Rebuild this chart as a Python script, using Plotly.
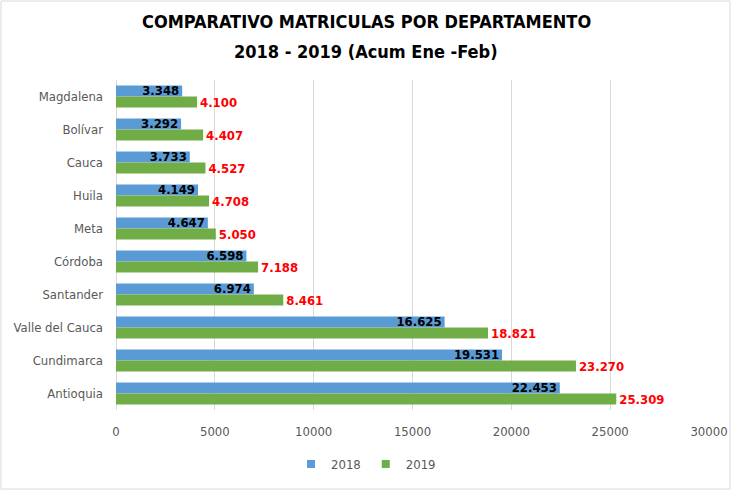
import plotly.graph_objects as go

departamentos = ["Magdalena", "Bolívar", "Cauca", "Huila", "Meta", "Córdoba",
                 "Santander", "Valle del Cauca", "Cundimarca", "Antioquia"]
v2018 = [3348, 3292, 3733, 4149, 4647, 6598, 6974, 16625, 19531, 22453]
v2019 = [4100, 4407, 4527, 4708, 5050, 7188, 8461, 18821, 23270, 25309]
x_ticks = [0, 5000, 10000, 15000, 20000, 25000, 30000]
title_lines = ["COMPARATIVO MATRICULAS POR DEPARTAMENTO", "2018 - 2019 (Acum Ene -Feb)"]
series_names = ["2018", "2019"]
series_colors = ["#5B9BD5", "#70AD47"]

def fmt(v):
    return f"{v:,}".replace(",", ".")

FONT = "DejaVu Sans Condensed, Liberation Sans Narrow, sans-serif"

fig = go.Figure()
fig.add_trace(go.Bar(
    y=departamentos, x=v2018, orientation="h", name=series_names[0], showlegend=False,
    marker=dict(color=series_colors[0], line=dict(width=0)),
    text=[fmt(v) for v in v2018], textposition="inside", insidetextanchor="end",
    constraintext="none",
    textfont=dict(color="#000000", size=13, family=FONT, weight="bold"),
))
fig.add_trace(go.Bar(
    y=departamentos, x=v2019, orientation="h", name=series_names[1], showlegend=False,
    marker=dict(color=series_colors[1], line=dict(width=0)),
    text=[fmt(v) for v in v2019], textposition="outside",
    constraintext="none", cliponaxis=False,
    textfont=dict(color="#FF0000", size=13, family=FONT, weight="bold"),
))
# legend entries with small square markers
for name, color in zip(series_names, series_colors):
    fig.add_trace(go.Scatter(
        x=[None], y=[None], mode="markers", name=name,
        marker=dict(symbol="square", size=8, color=color),
        showlegend=True, hoverinfo="skip",
    ))

L, R, T, B = 116, 23, 80, 81
W, H = 732, 491
pw, ph = W - L - R, H - T - B
cx = (W / 2 - L) / pw

annotations = [
    dict(text=title_lines[0], xref="paper", yref="paper", x=cx, y=1 + (T - 22) / ph,
         xanchor="center", yanchor="middle", showarrow=False,
         font=dict(family=FONT, size=18, color="#000000", weight="bold")),
    dict(text=title_lines[1], xref="paper", yref="paper", x=cx, y=1 + (T - 52) / ph,
         xanchor="center", yanchor="middle", showarrow=False,
         font=dict(family=FONT, size=18, color="#000000", weight="bold")),
]

fig.update_layout(
    width=W, height=H,
    margin=dict(l=L, r=R, t=T, b=B, autoexpand=False),
    paper_bgcolor="white", plot_bgcolor="white",
    barmode="group", bargap=0.33, bargroupgap=0,
    annotations=annotations,
    xaxis=dict(
        range=[0, 30000], tickvals=x_ticks, ticktext=[str(t) for t in x_ticks],
        showgrid=True, gridcolor="#D9D9D9", gridwidth=1,
        zeroline=True, zerolinecolor="#D9D9D9", zerolinewidth=1,
        showline=False, ticks="", automargin=False, ticklabelstandoff=12,
        tickfont=dict(family=FONT, size=13, color="#595959"),
    ),
    yaxis=dict(
        autorange="reversed", showgrid=False, showline=False, ticks="",
        automargin=False, ticklabelstandoff=12,
        tickfont=dict(family=FONT, size=13, color="#595959"),
    ),
    legend=dict(
        orientation="h", x=cx, xanchor="center",
        y=-(464 - (H - B)) / ph, yanchor="middle",
        font=dict(family=FONT, size=13, color="#595959"),
        itemwidth=30, tracegroupgap=0,
    ),
    shapes=[dict(
        type="rect", xref="paper", yref="paper",
        x0=(1 - L) / pw, x1=(W - 2 - L) / pw,
        y0=-(B - 2) / ph, y1=(H - 1 - B) / ph,
        line=dict(color="#D9D9D9", width=1), fillcolor="rgba(0,0,0,0)",
    )],
)

fig.write_html("out.html", config={"displayModeBar": False},
               post_script="document.body.style.margin='0';document.body.style.overflow='hidden';")
